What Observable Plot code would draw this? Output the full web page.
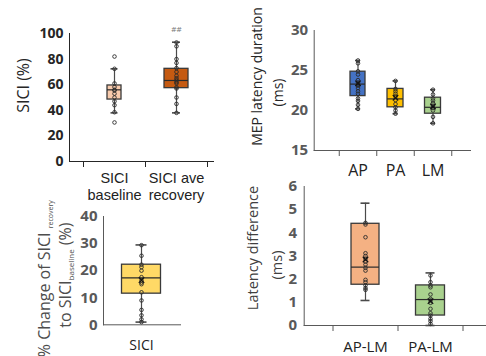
<!DOCTYPE html>
<html><head><meta charset="utf-8">
<script src="https://cdn.jsdelivr.net/npm/d3@7"></script>
<script src="https://cdn.jsdelivr.net/npm/@observablehq/plot@0.6"></script>
<style>
html,body{margin:0;padding:0;background:#fff;}
#chart{position:relative;width:486px;height:356px;overflow:hidden;font-family:"Open Sans",sans-serif;}
#chart svg{position:absolute;}
</style></head><body><div id="chart"></div>
<script>
// ---------- Panel A: SICI (%) ----------
const siciCategories = ["SICI\nbaseline", "SICI ave\nrecovery"];
const siciQ1 = [48.4, 57.3];
const siciMedian = [56, 63.3];
const siciQ3 = [59.4, 72.4];
const siciLow = [38, 38];
const siciHigh = [72.4, 93.2];
const siciSig = ["", "##"];
const siciBaselinePoints = [82, 72.4, 61, 58.2, 56, 55.5, 53, 50, 47, 44, 38.5, 30.5];
const siciRecoveryPoints = [93, 90, 80, 77, 73, 70, 67, 65, 63.5, 62, 61, 58, 57, 50, 45, 38];
const siciYTicks = [0, 20, 40, 60, 80, 100];
const siciTitle = ["SICI (%)"];

// ---------- Panel B: MEP latency duration ----------
const latCategories = ["AP", "PA", "LM"];
const latQ1 = [21.8, 20.4, 19.6];
const latMedian = [23.3, 21.45, 20.4];
const latQ3 = [24.85, 22.7, 21.6];
const latLow = [20.2, 19.6, 18.4];
const latHigh = [26.25, 23.7, 22.6];
const latMean = [23.4, 21.6, 20.5];
const latAPPoints = [26.25, 25.9, 24.9, 24.5, 23.8, 23.5, 23.3, 23.1, 22.8, 22.4, 22.1, 21.5, 21.2, 20.7, 20.2];
const latPAPoints = [23.7, 22.7, 22.4, 22.1, 21.75, 21.3, 20.8, 20.4, 20.0, 19.6];
const latLMPoints = [22.6, 22.0, 21.5, 21.25, 20.9, 20.6, 20.3, 20.0, 19.2, 18.4];
const latYTicks = [15, 20, 25, 30];
const latTitle = ["MEP latency duration", "(ms)"];

// ---------- Panel C: % change of SICI ----------
const chgCategories = ["SICI"];
const chgQ1 = [11.5];
const chgMedian = [17.3];
const chgQ3 = [22.2];
const chgLow = [1];
const chgHigh = [29.5];
const chgMean = [16.5];
const chgPoints = [29.4, 25.5, 22.2, 21.3, 20, 17.6, 16.4, 15.6, 15, 12, 9, 5.5, 3.5, 2, 1];
const chgYTicks = [0, 10, 20, 30, 40];
const chgTitle = ["% Change of SICI recovery", "to SICI baseline (%)"];

// ---------- Panel D: Latency difference ----------
const diffCategories = ["AP-LM", "PA-LM"];
const diffQ1 = [1.76, 0.43];
const diffMedian = [2.52, 1.12];
const diffQ3 = [4.39, 1.73];
const diffLow = [1.08, 0];
const diffHigh = [5.28, 2.27];
const diffMean = [2.85, 1.05];
const diffAPLMPoints = [4.43, 4.36, 3.81, 3.12, 3.0, 2.88, 2.76, 2.63, 2.49, 2.37, 1.97, 1.87, 1.73, 1.61, 1.54];
const diffPALMPoints = [2.16, 1.87, 1.73, 1.65, 1.34, 1.15, 1.08, 0.98, 0.72, 0.53, 0.43, 0.29, 0.19, 0.07];
const diffYTicks = [0, 1, 2, 3, 4, 5, 6];
const diffTitle = ["Latency difference", "(ms)"];

// ---------- layout / style ----------
const FONT = "'Open Sans', sans-serif";

function panel(cfg, d) {
  const {left, top, width, height, axL, axR, yTop, yBot, c1, sp} = cfg;
  const x0 = 1 + (axL - c1) / sp, x1 = 1 + (axR - c1) / sp;
  const n = d.categories.length;
  const rows = d.categories.map((c, i) => ({
    pos: i + 1, label: c, q1: d.q1[i], med: d.median[i], q3: d.q3[i],
    lo: d.low[i], hi: d.high[i], mean: d.mean ? d.mean[i] : null,
    sig: d.sig ? d.sig[i] : "",
    hw: cfg.boxW[i] / 2 / sp, cw: cfg.capW[i] / 2 / sp, fill: cfg.fills[i]
  }));
  const pts = d.points.flatMap((arr, i) => arr.map(v => ({pos: i + 1, v})));
  const bounds = cfg.noTicks ? [] : d3.range(n + 1).map(i => i + 0.5);
  const wc = "#4a4a4a";
  const marks = [
    Plot.ruleX(rows, {x: "pos", y1: "lo", y2: "q1", stroke: wc, strokeWidth: 1.2}),
    Plot.ruleX(rows, {x: "pos", y1: "q3", y2: "hi", stroke: wc, strokeWidth: 1.2}),
    Plot.ruleY(rows, {y: "lo", x1: r => r.pos - r.cw, x2: r => r.pos + r.cw, stroke: wc, strokeWidth: 1.6}),
    Plot.ruleY(rows, {y: "hi", x1: r => r.pos - r.cw, x2: r => r.pos + r.cw, stroke: wc, strokeWidth: 1.6}),
    Plot.rect(rows, {x1: r => r.pos - r.hw, x2: r => r.pos + r.hw, y1: "q1", y2: "q3", fill: "fill", stroke: "#3a3a3a", strokeWidth: 1.3}),
    Plot.ruleY(rows, {y: "med", x1: r => r.pos - r.hw, x2: r => r.pos + r.hw, stroke: "#2a2a2a", strokeWidth: 1.2}),
    Plot.dot(pts, {x: "pos", y: "v", r: 1.8, stroke: "#2a2a2a", strokeWidth: 0.9, fill: "none"}),
    Plot.text(rows, {x: "pos", text: "label", frameAnchor: "bottom", lineAnchor: "top", dy: cfg.labelDy,
      fontSize: cfg.labelSize, fontWeight: "normal", fill: "#222", lineHeight: cfg.lineHeight || 1.1,
      fontFamily: cfg.labelFont || FONT})
  ];
  if (d.mean) marks.push(Plot.dot(rows, {x: "pos", y: "mean", symbol: "times", r: 2.6, stroke: "#111", strokeWidth: 1.2}));
  if (d.sig) marks.push(Plot.text(rows, {x: "pos", text: "sig", frameAnchor: "top", dy: -7, fontSize: 8, fontWeight: "normal", fill: "#777"}));
  d.titles.forEach((t, i) => {
    const st = cfg.titles[i];
    marks.push(Plot.text([t], {text: v => v, frameAnchor: "left", rotate: -90, dx: st.dx, dy: st.dy,
      fontSize: st.size, fontWeight: "normal", fill: cfg.titleColor, textAnchor: "middle", lineAnchor: "middle"}));
  });
  const svg = Plot.plot({
    width, height,
    marginLeft: axL - left, marginRight: left + width - axR,
    marginTop: yTop - top, marginBottom: top + height - yBot,
    x: {type: "linear", domain: [x0, x1], ticks: bounds, tickFormat: () => "", tickSize: 6, line: true, label: null},
    y: {domain: cfg.yDomain, ticks: d.yTicks, tickFormat: v => String(v), tickSize: 0, tickPadding: cfg.tickPad, line: true, label: null},
    color: {type: "identity"},
    style: {background: "transparent", overflow: "visible", fontFamily: FONT, fontSize: cfg.tickFont + "px",
      fontWeight: "bold", color: cfg.axisColor},
    marks
  });
  svg.style.left = left + "px";
  svg.style.top = top + "px";
  document.getElementById("chart").appendChild(svg);
  return svg;
}

panel({
  left: 0, top: 0, width: 243, height: 200, axL: 69, axR: 213, yTop: 33, yBot: 161, c1: 114, sp: 62,
  yDomain: [0, 100], tickFont: 14, tickPad: 6, axisColor: "#262626", titleColor: "#262626",
  labelDy: 9, labelSize: 14.5, lineHeight: 1.17, labelFont: "'Liberation Sans', Arial, sans-serif",
  boxW: [14, 24], capW: [7, 8], fills: ["#f8cbad", "#c55a11"],
  titles: [{dx: -46, dy: -12, size: 16}]
}, {categories: siciCategories, q1: siciQ1, median: siciMedian, q3: siciQ3, low: siciLow, high: siciHigh,
    sig: siciSig, points: [siciBaselinePoints, siciRecoveryPoints], yTicks: siciYTicks, titles: siciTitle});

panel({
  left: 243, top: 0, width: 243, height: 178, axL: 313.7, axR: 470, yTop: 30, yBot: 150, c1: 357.5, sp: 37.5,
  yDomain: [15, 30], tickFont: 15, tickPad: 6, axisColor: "#595959", titleColor: "#262626",
  labelDy: 13, labelSize: 16,
  boxW: [15, 16, 16], capW: [5, 5, 5], fills: ["#4472c4", "#ffc000", "#a9d18e"],
  titles: [{dx: -57, dy: -14, size: 14}, {dx: -36, dy: 2, size: 14}]
}, {categories: latCategories, q1: latQ1, median: latMedian, q3: latQ3, low: latLow, high: latHigh, mean: latMean,
    points: [latAPPoints, latPAPoints, latLMPoints], yTicks: latYTicks, titles: latTitle});

const svg3 = panel({
  left: 0, top: 200, width: 243, height: 156, axL: 103, axR: 180, yTop: 216, yBot: 324.3, c1: 141, sp: 40,
  yDomain: [0, 40], tickFont: 15, tickPad: 6, axisColor: "#595959", titleColor: "#4d4d4d", noTicks: true,
  labelDy: 14.5, labelSize: 14,
  boxW: [39], capW: [11], fills: ["#ffd966"],
  titles: [{dx: -58.5, dy: 8, size: 16}, {dx: -38, dy: 4.5, size: 16}]
}, {categories: chgCategories, q1: chgQ1, median: chgMedian, q3: chgQ3, low: chgLow, high: chgHigh, mean: chgMean,
    points: [chgPoints], yTicks: chgYTicks, titles: chgTitle});

panel({
  left: 243, top: 178, width: 243, height: 178, axL: 303.7, axR: 486, yTop: 186, yBot: 325, c1: 365, sp: 65,
  yDomain: [0, 6], tickFont: 15, tickPad: 7, axisColor: "#595959", titleColor: "#404040",
  labelDy: 15, labelSize: 15,
  boxW: [28, 29], capW: [9, 9], fills: ["#f4b183", "#a9d18e"],
  titles: [{dx: -51, dy: -8, size: 14.5}, {dx: -27, dy: 9, size: 14.5}]
}, {categories: diffCategories, q1: diffQ1, median: diffMedian, q3: diffQ3, low: diffLow, high: diffHigh, mean: diffMean,
    points: [diffAPLMPoints, diffPALMPoints], yTicks: diffYTicks, titles: diffTitle});

// subscripts in panel C title
d3.select(svg3).selectAll("text").each(function () {
  const s = this.textContent;
  const t = d3.select(this);
  if (s === chgTitle[0]) {
    t.text(null);
    t.append("tspan").text("% Change of SICI ");
    t.append("tspan").attr("font-size", 7).attr("dy", 3).text("recovery");
  } else if (s === chgTitle[1]) {
    t.text(null);
    t.append("tspan").text("to SICI");
    t.append("tspan").attr("font-size", 8).attr("dy", 3).text("baseline");
    t.append("tspan").attr("dy", -3).text(" (%)");
  }
});
</script></body></html>
